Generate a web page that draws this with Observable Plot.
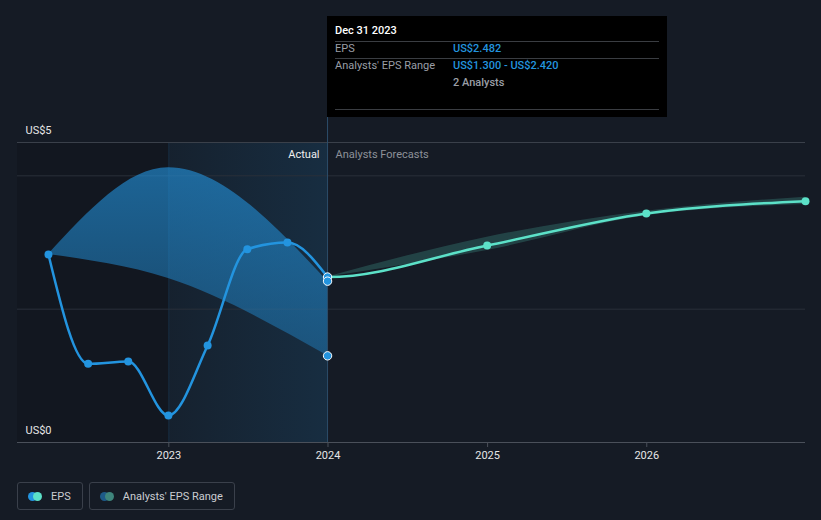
<!DOCTYPE html>
<html>
<head>
<meta charset="utf-8">
<script src="https://cdn.jsdelivr.net/npm/d3@7"></script>
<script src="https://cdn.jsdelivr.net/npm/@observablehq/plot@0.6"></script>
<style>
  html, body { margin: 0; padding: 0; background: #151b25; }
  body { width: 821px; height: 520px; overflow: hidden; position: relative; font-family: Roboto, "Noto Sans", sans-serif; }
  #chart svg { display: block; }
  #tip { position: absolute; left: 327px; top: 16px; width: 340px; height: 101px; background: #000; color: #fff; font-size: 11px; }
  #tip .row { position: absolute; left: 8px; right: 8px; }
  #tip .lab { position: absolute; left: 0; color: #9a9ea6; }
  #tip .val { position: absolute; left: 118px; color: #2394df; font-weight: 500; }
  #tip .sep { position: absolute; left: 8px; right: 8px; height: 1px; background: #3a3d42; }
  #legend { position: absolute; left: 17px; top: 482px; display: flex; gap: 6px; }
  .item { height: 26px; border: 1px solid #3a404b; border-radius: 3px; display: flex; align-items: center; padding: 0 11px 0 10px; color: #c9ccd1; font-size: 11px; box-sizing: content-box; }
  .sw { position: relative; width: 14px; height: 9px; margin-right: 9px; }
  .sw i { position: absolute; top: 0; width: 9px; height: 9px; border-radius: 50%; }
</style>
</head>
<body>
<div id="chart"></div>
<div id="tip"></div>
<div id="legend"></div>
<script>
// ---- data ----
const actualDates = ["2022-03-31","2022-06-30","2022-09-30","2022-12-31","2023-03-31","2023-06-30","2023-09-30","2023-12-31"];
const actualEps   = [2.82, 1.18, 1.215, 0.405, 1.455, 2.90, 3.00, 2.482];
const pastRangeDates = ["2022-03-31","2022-12-31","2023-12-31"];
const pastRangeLow   = [2.82, 2.46, 1.300];
const pastRangeHigh  = [2.82, 4.12, 2.420];
const forecastDates = ["2023-12-31","2024-12-31","2025-12-31","2026-12-31"];
const forecastEps   = [2.482, 2.955, 3.435, 3.62];
const forecastLow   = [2.482, 2.88, 3.40, 3.57];
const forecastHigh  = [2.482, 3.08, 3.47, 3.68];
const yearTicks = ["2023","2024","2025","2026"];
const yLabels = [{v: 4.5, t: "US$5"}, {v: 0, t: "US$0"}];
const gridValues = [2, 4];
const tipDate = "Dec 31 2023";
const tipAnalysts = 2;

const P = d3.utcParse("%Y-%m-%d");
const actual = actualDates.map((d, i) => ({date: P(d), eps: actualEps[i]}));
const pastRange = pastRangeDates.map((d, i) => ({date: P(d), lo: pastRangeLow[i], hi: pastRangeHigh[i]}));
const forecast = forecastDates.map((d, i) => ({date: P(d), eps: forecastEps[i], lo: forecastLow[i], hi: forecastHigh[i]}));
const ticks = yearTicks.map(y => d3.utcParse("%Y")(y));
const domainStart = P("2022-01-19");
const domainEnd = P("2026-12-31");
const yearStart2023 = P("2023-01-01");
const last = actual[actual.length - 1];
const lastRange = pastRange[pastRange.length - 1];

// monotone curve whose first tangent is flat (continuing from the actual line)
function flatStartMonotone(context) {
  let xs = [], ys = [];
  const sign = v => v < 0 ? -1 : 1;
  return {
    areaStart() {}, areaEnd() {},
    lineStart() { xs = []; ys = []; },
    point(x, y) { xs.push(+x); ys.push(+y); },
    lineEnd() {
      const n = xs.length;
      if (!n) return;
      context.moveTo(xs[0], ys[0]);
      if (n === 1) return;
      const s = [];
      for (let i = 0; i < n - 1; i++) s[i] = (ys[i + 1] - ys[i]) / (xs[i + 1] - xs[i]);
      const m = new Array(n);
      m[0] = 0;
      for (let i = 1; i < n - 1; i++) {
        const h0 = xs[i] - xs[i - 1], h1 = xs[i + 1] - xs[i];
        const s0 = s[i - 1], s1 = s[i], p = (s0 * h1 + s1 * h0) / (h0 + h1);
        m[i] = (sign(s0) + sign(s1)) * Math.min(Math.abs(s0), Math.abs(s1), 0.5 * Math.abs(p)) || 0;
      }
      m[n - 1] = n > 2 ? (3 * s[n - 2] - m[n - 2]) / 2 : s[0];
      for (let i = 0; i < n - 1; i++) {
        const dx = (xs[i + 1] - xs[i]) / 3;
        context.bezierCurveTo(xs[i] + dx, ys[i] + dx * m[i], xs[i + 1] - dx, ys[i + 1] - dx * m[i + 1], xs[i + 1], ys[i + 1]);
      }
    }
  };
}

const defs = () => {
  const g = d3.create("svg:defs");
  const b = g.append("linearGradient").attr("id", "bandBlue").attr("x1", 0).attr("x2", 0).attr("y1", 0).attr("y2", 1);
  b.append("stop").attr("offset", "0%").attr("stop-color", "#2394df").attr("stop-opacity", 0.62);
  b.append("stop").attr("offset", "100%").attr("stop-color", "#2394df").attr("stop-opacity", 0.38);
  const h = g.append("linearGradient").attr("id", "hiRegion").attr("x1", 0).attr("x2", 1).attr("y1", 0).attr("y2", 0);
  h.append("stop").attr("offset", "0%").attr("stop-color", "#2394df").attr("stop-opacity", 0.05);
  h.append("stop").attr("offset", "100%").attr("stop-color", "#2394df").attr("stop-opacity", 0.15);
  return g.node();
};

const chart = Plot.plot({
  width: 821,
  height: 470,
  marginLeft: 17,
  marginRight: 16,
  marginTop: 142,
  marginBottom: 28,
  style: {background: "transparent", color: "#e6e6e6", fontFamily: "Roboto, 'Noto Sans', sans-serif", fontSize: "11px"},
  x: {type: "utc", domain: [domainStart, domainEnd], axis: null},
  y: {domain: [0, 4.5], axis: null},
  marks: [
    defs,
    // darker region before the last year
    Plot.rectX([{a: domainStart, b: yearStart2023}], {x1: "a", x2: "b", fill: "#000", fillOpacity: 0.13}),
    // highlighted last-year region
    Plot.rectX([{a: yearStart2023, b: last.date}], {x1: "a", x2: "b", fill: "url(#hiRegion)"}),
    Plot.ruleX([yearStart2023], {stroke: "#2394df", strokeOpacity: 0.12}),
    // grid
    Plot.ruleY(gridValues, {stroke: "#2a303a", strokeWidth: 1}),
    Plot.ruleY([4.5], {stroke: "#3a404a", strokeWidth: 1}),
    Plot.ruleY([0], {stroke: "#4a505a", strokeWidth: 1}),
    // x axis
    Plot.axisX({ticks, tickSize: 5, tickPadding: 4, tickFormat: d3.utcFormat("%Y"), label: null, stroke: "#4a505a", fill: "#e6e6e6"}),
    Plot.text(yLabels, {y: "v", text: "t", frameAnchor: "left", dx: 8, dy: -12, textAnchor: "start", fill: "#e6e6e6", fontSize: 11}),
    // hover line
    Plot.ruleX([last.date], {y1: 0, y2: 4.88, stroke: "#2c4d6b", strokeWidth: 1}),
    // bands
    Plot.areaY(pastRange, {x: "date", y1: "lo", y2: "hi", curve: "monotone-x", fill: "url(#bandBlue)"}),
    Plot.areaY(forecast, {x: "date", y1: "lo", y2: "hi", curve: "monotone-x", fill: "#5ce1c8", fillOpacity: 0.2}),
    // lines
    Plot.line(actual, {x: "date", y: "eps", curve: "monotone-x", stroke: "#2394df", strokeWidth: 2.5}),
    Plot.line(forecast, {x: "date", y: "eps", curve: flatStartMonotone, stroke: "#5ce1c8", strokeWidth: 2.5}),
    Plot.dot(actual.slice(0, -1), {x: "date", y: "eps", r: 4, fill: "#2394df"}),
    Plot.dot(forecast.slice(1), {x: "date", y: "eps", r: 4, fill: "#5ce1c8"}),
    Plot.dot([lastRange], {x: "date", y: "lo", r: 4.2, fill: "#2394df", stroke: "#fff", strokeWidth: 1}),
    Plot.dot([last], {x: "date", y: "eps", r: 4.2, fill: "#2394df", stroke: "#fff", strokeWidth: 1}),
    Plot.dot([lastRange], {x: "date", y: "hi", r: 4.2, fill: "#2394df", stroke: "#fff", strokeWidth: 1}),
    // section labels
    Plot.text(["Actual"], {x: last.date, frameAnchor: "top", dy: 8, dx: -8, textAnchor: "end", fill: "#f0f0f0", fontSize: 11}),
    Plot.text(["Analysts Forecasts"], {x: last.date, frameAnchor: "top", dy: 8, dx: 8, textAnchor: "start", fill: "#8d9199", fontSize: 11})
  ]
});
document.getElementById("chart").appendChild(chart);

// tooltip
const fmt = v => "US$" + v.toFixed(3);
const tip = document.getElementById("tip");
tip.innerHTML = `
  <div class="row" style="top:8px;font-weight:500;color:#fff">${tipDate}</div>
  <div class="sep" style="top:25px"></div>
  <div class="row" style="top:26px"><span class="lab">EPS</span><span class="val">${fmt(last.eps)}</span></div>
  <div class="sep" style="top:42px"></div>
  <div class="row" style="top:43px"><span class="lab">Analysts' EPS Range</span><span class="val">${fmt(lastRange.lo)} - ${fmt(lastRange.hi)}</span></div>
  <div class="row" style="top:60px"><span class="val" style="color:#9a9ea6">${tipAnalysts} Analysts</span></div>
  <div class="sep" style="top:93px"></div>`;

// legend
const legend = document.getElementById("legend");
legend.innerHTML = `
  <div class="item"><span class="sw"><i style="left:0;background:#2394df"></i><i style="left:5px;background:#5ce1c8"></i></span>EPS</div>
  <div class="item"><span class="sw"><i style="left:0;background:#1d5a88"></i><i style="left:5px;background:#3e857c"></i></span>Analysts' EPS Range</div>`;
</script>
</body>
</html>
